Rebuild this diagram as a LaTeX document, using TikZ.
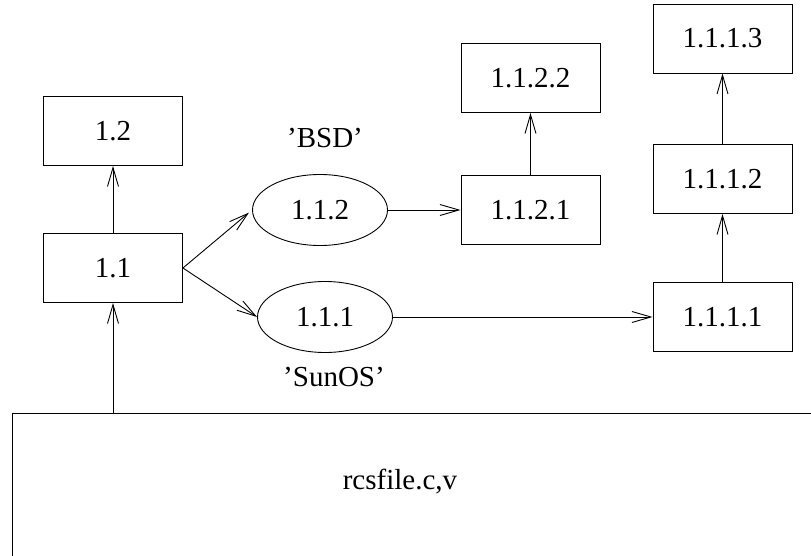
\documentclass[tikz,border=0pt]{standalone}
\usepackage{fontspec}
\setmainfont{Liberation Serif}
\usetikzlibrary{shapes.geometric,arrows.meta}
\begin{document}
\begin{tikzpicture}[x=1pt,y=-1pt,
  every node/.style={font=\fontsize{29}{33}\selectfont, inner sep=0pt},
  box/.style={draw, line width=0.9pt, rectangle, minimum width=139pt, minimum height=69pt},
  oval/.style={draw, line width=0.9pt, ellipse, minimum width=135pt, minimum height=71pt},
  lbl/.style={},
  conn/.style={line width=0.9pt, -{Straight Barb[length=19pt,width=11pt,line width=0.9pt]}}]
\path[use as bounding box] (0,0) rectangle (811,556);
\clip (0,0) rectangle (811,556);
\node[box] (n12) at (113,131) {1.2};
\node[box] (n11) at (113,268) {1.1};
\node[oval] (e112) at (320,210) {1.1.2};
\node[oval] (e111) at (325,317) {1.1.1};
\node[lbl] (bsd) at (325,138) {’BSD’};
\node[lbl] (sunos) at (334,377) {’SunOS’};
\node[box] (n1122) at (530.5,78) {1.1.2.2};
\node[box] (n1121) at (530.5,210) {1.1.2.1};
\node[box] (n1113) at (722.5,38.5) {1.1.1.3};
\node[box] (n1112) at (722.5,179) {1.1.1.2};
\node[box] (n1111) at (722.5,317) {1.1.1.1};
\node[draw, line width=0.9pt, rectangle, anchor=north west, minimum width=850pt, minimum height=200pt] (file) at (12,413) {};
\node[lbl] (filelbl) at (400,482) {rcsfile.c,v};
\coordinate (fstart) at (113,413);
\draw[conn] (n11.north) -- (n12.south);
\draw[conn] (fstart) -- (n11.south);
\draw[conn, shorten >=4pt] (n11.east) -- (e112.west);
\draw[conn] (n11.east) -- (e111.west);
\draw[conn] (e112.east) -- (n1121.west);
\draw[conn] (e111.east) -- (n1111.west);
\draw[conn] (n1121.north) -- (n1122.south);
\draw[conn] (n1111.north) -- (n1112.south);
\draw[conn] (n1112.north) -- (n1113.south);
\end{tikzpicture}
\end{document}
